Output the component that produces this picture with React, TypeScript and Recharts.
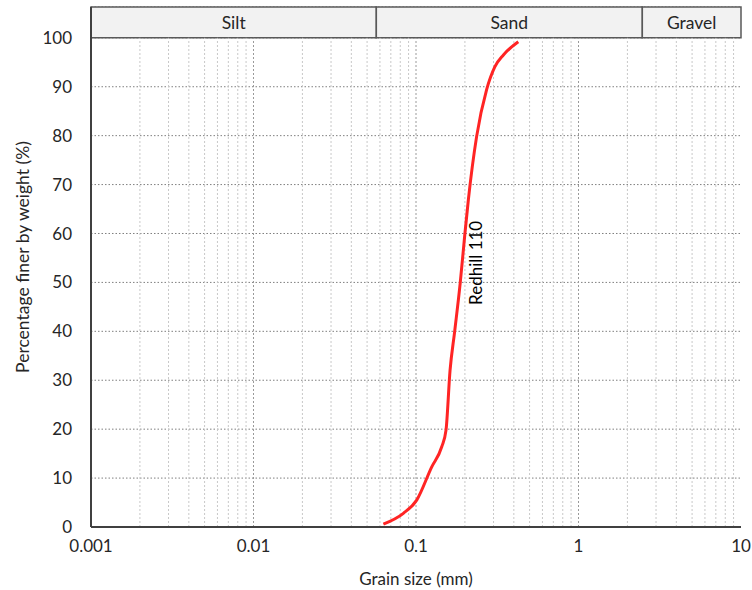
import {
    LineChart,
    Line,
    XAxis,
    YAxis,
    CartesianGrid,
    ReferenceLine,
    ReferenceArea,
    ReferenceDot,
    Label,
} from 'recharts';

// grain size (mm) vs percentage passing
const grainSize = [0.063, 0.0836, 0.101, 0.125, 0.144, 0.153, 0.162, 0.173, 0.187, 0.2, 0.21, 0.236, 0.272, 0.306, 0.345, 0.426];
const percentFiner = [0.6, 2.8, 5.5, 12.3, 16.4, 19.8, 32, 40, 49.8, 60, 66.9, 79.8, 89.4, 94.1, 96.5, 99.2];

const xTicks = [0.001, 0.01, 0.1, 1, 10];
const yTicks = [0, 10, 20, 30, 40, 50, 60, 70, 80, 90, 100];

// soil classes shown in the band above the plot
const bandNames = ['Silt', 'Sand', 'Gravel'];
const bandEdges = [0.001, 0.057, 2.47, 10];

const decades = [0.001, 0.01, 0.1, 1];
const steps = [1, 2, 3, 4, 5, 6, 7, 8, 9];

const data = grainSize.map((size, i) => ({ size, pct: percentFiner[i] }));
const gridX = decades
    .flatMap((d) => steps.map((s) => +(d * s).toPrecision(3)))
    .filter((v) => v > 0.001);

const FONT = 'Lato, "Open Sans", sans-serif';
const TEXT = '#262626';
const AXIS = '#404040';
const Y_MAX = 106.3;

function YTitle({ viewBox }: any) {
    const x = 22;
    const y = viewBox.y + viewBox.height / 2 - 10;
    return (
        <text
            x={x}
            y={y}
            transform={`rotate(-90, ${x}, ${y})`}
            textAnchor="middle"
            dominantBaseline="central"
            fontSize={17.5}
            fill={TEXT}
            fontFamily={FONT}
        >
            Percentage finer by weight (%)
        </text>
    );
}

export default function App() {
    return (
        <div style={{ position: 'absolute', left: 0, top: 0, width: 752, height: 590, background: '#fff' }}>
            <LineChart
                width={752}
                height={590}
                data={data}
                margin={{ top: 7, right: 11, bottom: 5, left: 10 }}
                style={{ fontFamily: FONT }}
            >
                <CartesianGrid
                    vertical={false}
                    stroke="#7f7f7f"
                    strokeDasharray="1.5 2"
                />
                {gridX.map((v) => (
                    <ReferenceLine
                        key={v}
                        segment={[{ x: v, y: 0 }, { x: v, y: 100 }]}
                        stroke={[0.01, 0.1, 1].includes(v) ? '#9a9a9a' : '#c8c8c8'}
                        strokeDasharray="2 2"
                    />
                ))}
                {bandNames.map((name, i) => (
                    <ReferenceArea
                        key={name}
                        x1={bandEdges[i]}
                        x2={bandEdges[i + 1]}
                        y1={100}
                        y2={Y_MAX}
                        fill="#f2f2f2"
                        fillOpacity={1}
                        stroke="#595959"
                        strokeWidth={1.5}
                        ifOverflow="visible"
                        label={{ value: name, position: 'center', fontSize: 17.5, fill: TEXT, fontFamily: FONT }}
                    />
                ))}
                <XAxis
                    dataKey="size"
                    type="number"
                    scale="log"
                    domain={[0.001, 10]}
                    ticks={xTicks}
                    allowDataOverflow
                    height={58}
                    tickLine={false}
                    tickSize={6}
                    tickMargin={7}
                    tick={{ fontSize: 17, fill: TEXT }}
                    tickFormatter={(v) => String(v)}
                    stroke={AXIS}
                    strokeWidth={2}
                >
                    <Label
                        value="Grain size (mm)"
                        position="insideBottom"
                        offset={0}
                        fontSize={17}
                        fill={TEXT}
                    />
                </XAxis>
                <YAxis
                    type="number"
                    domain={[0, Y_MAX]}
                    ticks={yTicks}
                    width={81}
                    tickLine={false}
                    tickSize={6}
                    tickMargin={13}
                    tick={{ fontSize: 17, fill: TEXT }}
                    stroke={AXIS}
                    strokeWidth={2}
                >
                    <Label content={<YTitle />} />
                </YAxis>
                <Line
                    dataKey="pct"
                    type="monotone"
                    stroke="#ff2424"
                    strokeWidth={3}
                    dot={false}
                    isAnimationActive={false}
                />
                <ReferenceDot
                    x={0.235}
                    y={54}
                    r={0}
                    stroke="none"
                    label={{ value: 'Redhill 110', angle: -90, position: 'center', fontSize: 17, fill: '#000', fontFamily: FONT }}
                />
            </LineChart>
        </div>
    );
}
